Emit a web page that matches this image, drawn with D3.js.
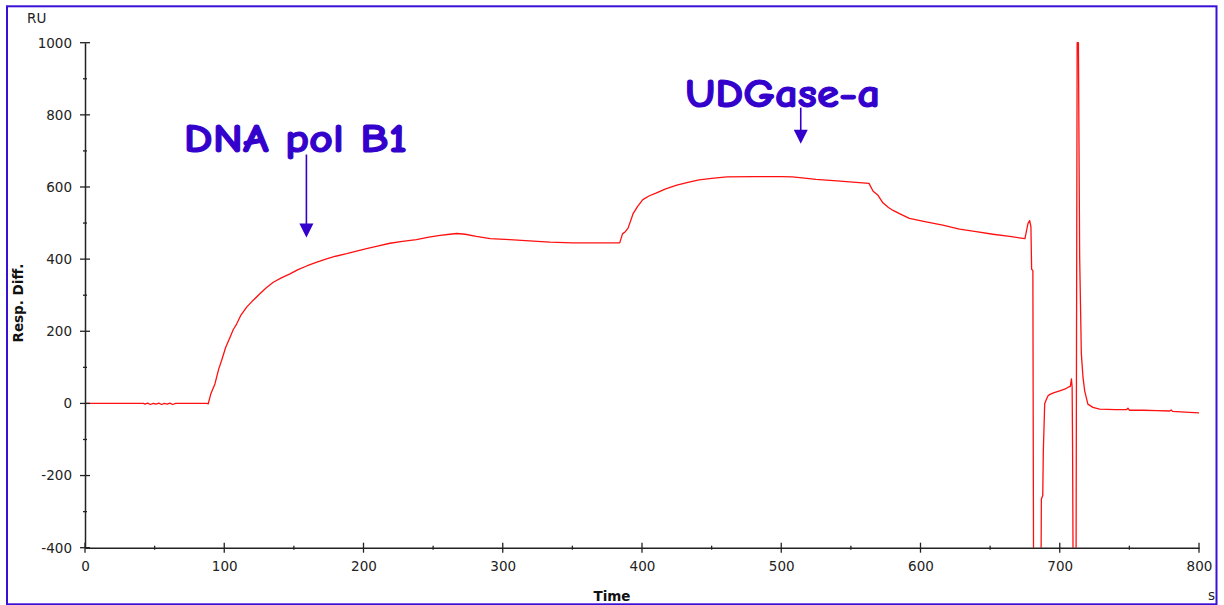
<!DOCTYPE html>
<html>
<head>
<meta charset="utf-8">
<script src="https://cdn.jsdelivr.net/npm/d3@7/dist/d3.min.js"></script>
<style>
  html, body { margin: 0; padding: 0; background: #ffffff; }
  svg { display: block; }
  .tick-label { font-family: "DejaVu Sans", Verdana, sans-serif; font-size: 13.5px; fill: #222; }
  .axis-title { font-family: "DejaVu Sans", Verdana, sans-serif; font-size: 13.5px; font-weight: bold; fill: #111; }
  .note { font-family: "Comic Sans MS", "Comic Neue", "DejaVu Sans", sans-serif; font-weight: bold; font-size: 40px; fill: #3300cc; stroke: #3300cc; stroke-width: 1.1px; }
</style>
</head>
<body>
<svg id="chart" width="1224" height="605"></svg>
<script>
// Sensorgram: time (s) vs response difference (RU)
const timeS = [
  0, 20, 42, 43, 45, 47, 49, 51, 53, 55, 57, 59, 61, 63, 65, 87.5, 88.5,
  90.4, 93.3, 96, 98.1, 101, 104.1, 106.5, 108.9, 112, 116.1, 120, 125.6, 130,
  135.2, 141, 147.2, 153, 159.2, 166, 173.5, 180, 187.9, 195, 202.2, 210, 219,
  228, 238, 247, 255, 262, 267, 273, 281, 291, 305, 322, 334, 350, 368, 384,
  386, 388, 390, 393.6, 397, 400.6, 405, 410, 417, 425, 433, 441, 450, 461,
  480, 500, 508, 515, 525, 540, 556, 563, 566, 569.5, 573, 577, 580.3, 586,
  592, 604, 616, 628, 640, 652, 664, 671, 675, 677.2, 678.4, 679.3, 679.8,
  680.7, 681.3, 686.3, 686.8, 687.8, 688.2, 689.2, 690.3, 691.6, 693, 696,
  700, 704, 706, 707.6, 708.4, 708.9, 709.2, 709.8, 711.6, 712.5, 713.4,
  714.3, 715.5, 716.7, 717.9, 720.2, 723.8, 728.6, 740, 748, 749, 750, 760,
  770, 779, 780, 781, 790, 800
];
const respRU = [
  0, 0, 0, -2, 1, -3, 0, -2, 1, -3, 0, -2, 1, -3, 0, 0, -1,
  27, 54, 95, 119, 155, 183, 205, 220, 245, 267, 283, 304, 320,
  336, 348, 359, 371, 381, 391, 401, 408, 415, 422, 429, 436, 444,
  449, 454, 461, 466, 469, 471, 469, 463, 457, 454, 450, 447, 445, 445, 445,
  470, 476, 486, 526, 547, 565, 575, 583, 595, 605, 613, 620, 624, 628,
  629, 629, 628, 625, 621, 617, 612, 610, 588, 577, 556, 543, 535, 524,
  513, 503, 494, 483, 476, 469, 463, 459, 457, 499, 507, 490, 372,
  368, -650, -650, -265, -255, -131, -1, 10, 21, 25, 30,
  35, 40, 45, 47, 68, 45, -112, -650, -650, 1000, 1000,
  405, 138, 72, 35, -2, -11, -16, -17, -17, -13, -19, -19,
  -20, -21, -18, -22, -24, -26
];

// Axis ticks
const xMajor = [0, 100, 200, 300, 400, 500, 600, 700, 800];
const xMinor = [50, 150, 250, 350, 450, 550, 650, 750];
const yMajor = [-400, -200, 0, 200, 400, 600, 800, 1000];
const yMinor = [-300, -100, 100, 300, 500, 700, 900];

// Injection annotations (time, label value, arrow tail, arrow tip)
const noteText = ["DNA pol B1", "UDGase-a"];
const noteTime = [159, 514];
const noteTextStart = [71, 431];
const noteTextValue = [697, 822];
const noteTextWidth = [223, 195];
const noteArrowTop = [690, 820];
const noteArrowTip = [460, 720];

const svg = d3.select("#chart");
const x = d3.scaleLinear().domain([0, 800]).range([85, 1199]);
const y = d3.scaleLinear().domain([-400, 1000]).range([547.7, 42.7]);

// Frame
svg.append("rect")
  .attr("x", 7).attr("y", 6.3).attr("width", 1209.5).attr("height", 598)
  .attr("fill", "none").attr("stroke", "#3a10d8").attr("stroke-width", 2);

// Clip the trace to the plotting window
svg.append("clipPath").attr("id", "plotClip")
  .append("rect")
  .attr("x", x(0)).attr("y", y(1000) - 2)
  .attr("width", x(800) - x(0)).attr("height", y(-400) - y(1000) + 2);

const pts = timeS.map((t, i) => [t, respRU[i]]);
const line = d3.line().x(d => x(d[0])).y(d => y(d[1]));

svg.append("path")
  .datum(pts)
  .attr("clip-path", "url(#plotClip)")
  .attr("fill", "none")
  .attr("stroke", "#ff1010")
  .attr("stroke-width", 1.3)
  .attr("stroke-linejoin", "round")
  .attr("d", line);

// Axes (labels via d3 axes, tick marks drawn across the axis lines)
const axisColor = "#222";
const fmt = d => String(d);
const xAxis = svg.append("g")
  .attr("transform", `translate(0,${y(-400)})`)
  .call(d3.axisBottom(x).tickValues(xMajor).tickSize(0).tickPadding(14).tickFormat(fmt));
const yAxis = svg.append("g")
  .attr("transform", `translate(${x(0)},0)`)
  .call(d3.axisLeft(y).tickValues(yMajor).tickSize(0).tickPadding(13).tickFormat(fmt));
[xAxis, yAxis].forEach(g => {
  g.select(".domain").attr("stroke", axisColor).attr("stroke-width", 1.5);
  g.selectAll("text").attr("class", "tick-label").attr("font-family", null).attr("font-size", null).attr("fill", null);
});

const ticks = svg.append("g").attr("stroke", axisColor).attr("stroke-width", 1.3);
ticks.selectAll(".xmaj").data(xMajor).join("line")
  .attr("x1", d => x(d)).attr("x2", d => x(d))
  .attr("y1", y(-400) - 5).attr("y2", y(-400) + 5);
ticks.selectAll(".xmin").data(xMinor).join("line")
  .attr("x1", d => x(d)).attr("x2", d => x(d))
  .attr("y1", y(-400) - 2).attr("y2", y(-400) + 2);
ticks.selectAll(".ymaj").data(yMajor).join("line")
  .attr("y1", d => y(d)).attr("y2", d => y(d))
  .attr("x1", x(0) - 5).attr("x2", x(0) + 5);
ticks.selectAll(".ymin").data(yMinor).join("line")
  .attr("y1", d => y(d)).attr("y2", d => y(d))
  .attr("x1", x(0) - 2).attr("x2", x(0) + 2);

// Axis titles and units
svg.append("text").attr("class", "tick-label").attr("x", 27).attr("y", 23).text("RU");
svg.append("text").attr("class", "tick-label").attr("x", 1208).attr("y", 600).text("s");
svg.append("text").attr("class", "axis-title").attr("x", 612).attr("y", 601)
  .attr("text-anchor", "middle").text("Time");
svg.append("text").attr("class", "axis-title")
  .attr("transform", "translate(23,303) rotate(-90)")
  .attr("text-anchor", "middle").text("Resp. Diff.");

// Annotations with arrows
const notes = svg.append("g");
noteText.forEach((txt, i) => {
  notes.append("text").attr("class", "note")
    .attr("x", x(noteTextStart[i])).attr("y", y(noteTextValue[i]))
    .attr("textLength", noteTextWidth[i]).attr("lengthAdjust", "spacingAndGlyphs")
    .text(txt);
  const ax = x(noteTime[i]);
  const tip = y(noteArrowTip[i]);
  notes.append("line")
    .attr("x1", ax).attr("x2", ax)
    .attr("y1", y(noteArrowTop[i])).attr("y2", tip - 10)
    .attr("stroke", "#3300cc").attr("stroke-width", 1.6);
  notes.append("path")
    .attr("d", `M${ax - 7},${tip - 14} L${ax + 7},${tip - 14} L${ax},${tip} Z`)
    .attr("fill", "#3300cc");
});
</script>
</body>
</html>
